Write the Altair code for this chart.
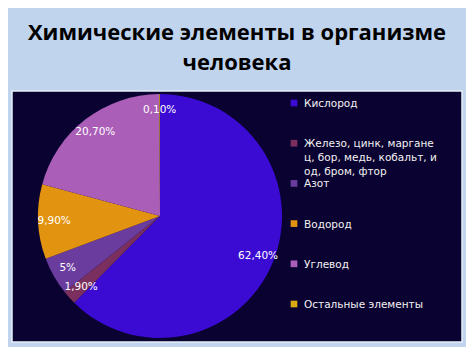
import altair as alt
import pandas as pd

categories = ["Кислород",
              "Железо, цинк, марганец, бор, медь, кобальт, иод, бром, фтор",
              "Азот", "Водород", "Углевод", "Остальные элементы"]
legend_text = ["Кислород",
               "Железо, цинк, маргане\nц, бор, медь, кобальт, и\nод, бром, фтор",
               "Азот", "Водород", "Углевод", "Остальные элементы"]
values = [62.4, 1.9, 5.0, 9.9, 20.7, 0.1]
labels = ["62,40%", "1,90%", "5%", "9,90%", "20,70%", "0,10%"]
colors = ["#3b0bd3", "#7a2f5e", "#6a3c9e", "#e29410", "#aa5eb8", "#d8aa10"]

df = pd.DataFrame({
    "category": categories,
    "legend": legend_text,
    "value": values,
    "label": labels,
    "idx": list(range(len(categories))),
})

cx, cy, R = 152, 125, 122
color = alt.Color("category:N", scale=alt.Scale(domain=categories, range=colors), legend=None)
theta = alt.Theta("value:Q", stack=True)
order = alt.Order("idx:Q")

box = alt.Chart(alt.Data(values=[{}])).mark_rect(
    color="#0a0230", stroke="#e6eef8", strokeWidth=1.5
).encode(x=alt.value(4), x2=alt.value(454), y=alt.value(0), y2=alt.value(251))

pie = alt.Chart(df).mark_arc(radius=R).encode(
    theta=theta, order=order, color=color,
    x=alt.value(cx), y=alt.value(cy)
)

pie_labels = alt.Chart(df).mark_text(
    radius=106, fontSize=10.5, color="white", font="DejaVu Sans"
).encode(
    theta=theta, order=order, text="label:N",
    x=alt.value(cx), y=alt.value(cy)
)

ly = alt.Y("category:N", sort=categories,
           scale=alt.Scale(type="point", range=[12, 213], padding=0), axis=None)

leg_sq = alt.Chart(df).mark_square(size=45, opacity=1).encode(
    x=alt.value(286), y=ly, color=color
)
leg_tx = alt.Chart(df).mark_text(
    align="left", baseline="alphabetic", dy=4, lineBreak="\n", lineHeight=14,
    fontSize=10.5, color="#f2f2f2", font="DejaVu Sans"
).encode(x=alt.value(296), y=ly, text="legend:N")

chart = alt.layer(box, pie, pie_labels, leg_sq, leg_tx).properties(
    width=458, height=339,
    autosize=alt.AutoSizeParams(type="fit", contains="padding"),
    padding={"top": 14, "left": 0, "right": 0, "bottom": 0},
    background="#c0d4ee",
    title=alt.Title(["Химические элементы в организме", "человека"],
                    fontSize=22, fontWeight="bold", font="Open Sans", color="black",
                    anchor="middle", lineHeight=30, offset=15)
).configure_view(stroke=None)

chart.save("out.html", embed_options={"renderer": "svg", "actions": False})
